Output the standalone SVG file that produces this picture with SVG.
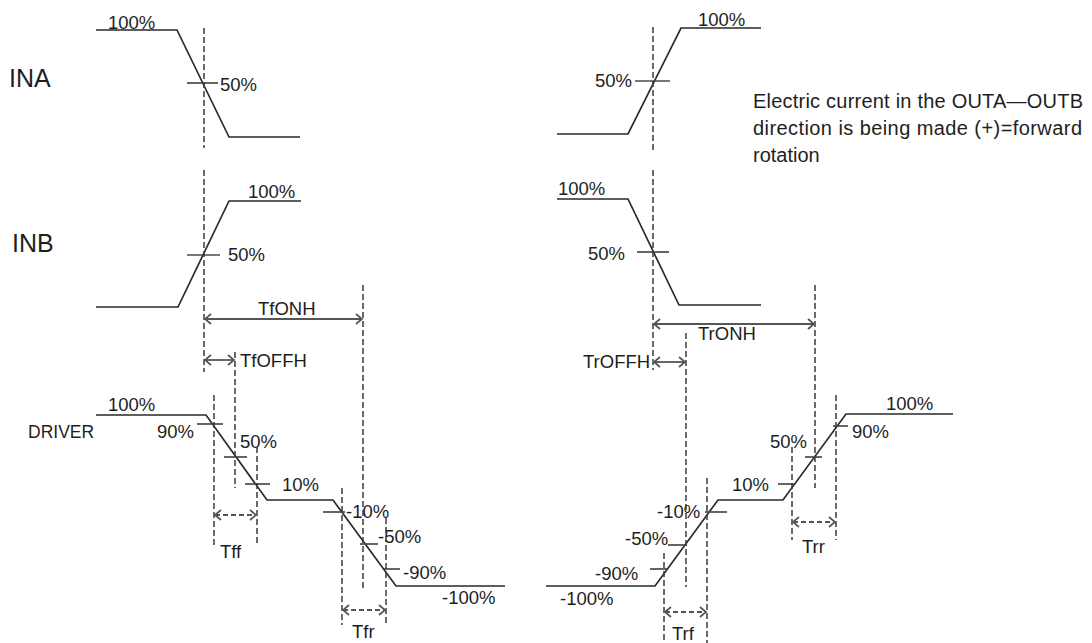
<svg xmlns="http://www.w3.org/2000/svg" width="1092" height="643" viewBox="0 0 1092 643">
<style>
text{font-family:"Liberation Sans",Arial,sans-serif;font-size:18.5px;fill:#1e1e1e}
.big{font-size:25px}
.drv{font-size:17.5px}
.note{font-size:20px}
.wave{fill:none;stroke:#2a2a2a;stroke-width:1.7}
.tick{stroke:#4a4a4a;stroke-width:1.7}
.guide{stroke:#3a3a3a;stroke-width:1.5;stroke-dasharray:6 3;fill:none}
.arr{stroke:#555;stroke-width:1.8;fill:none;marker-start:url(#ah);marker-end:url(#ah)}
.darr{stroke:#555;stroke-width:1.8;fill:none;stroke-dasharray:5 3;marker-start:url(#ah);marker-end:url(#ah)}
</style>
<defs>
<marker id="ah" viewBox="-8 -7 10 14" markerUnits="userSpaceOnUse" markerWidth="10" markerHeight="14" refX="0" refY="0" orient="auto-start-reverse">
<path d="M-6,-5 L0,0 L-6,5" fill="none" stroke="#555" stroke-width="1.7"/>
</marker>
</defs>
<rect width="1092" height="643" fill="#fff"/>

<g id="ina-left">
<text class="big" x="9" y="87">INA</text>
<path class="wave" d="M96,30 H177 L229,137 H300"/>
<line class="tick" x1="187" y1="83" x2="218" y2="83"/>
<text x="108" y="29">100%</text>
<text x="220" y="91">50%</text>
</g>

<g id="inb-left">
<text class="big" x="12" y="252">INB</text>
<path class="wave" d="M96,307 H178 L229,201 H301"/>
<line class="tick" x1="187" y1="255" x2="220" y2="255"/>
<text x="248" y="198">100%</text>
<text x="228" y="261">50%</text>
</g>

<g id="driver-left">
<text class="drv" x="28" y="438">DRIVER</text>
<path class="wave" d="M96,415 H206 L267,500 H333 L396,586 H505"/>
<line class="tick" x1="197" y1="424" x2="223" y2="424"/>
<line class="tick" x1="224" y1="457" x2="247" y2="457"/>
<line class="tick" x1="245" y1="484" x2="270" y2="484"/>
<line class="tick" x1="323" y1="512" x2="345" y2="512"/>
<line class="tick" x1="360" y1="544" x2="378" y2="544"/>
<line class="tick" x1="384" y1="569" x2="400" y2="569"/>
<text x="108" y="411">100%</text>
<text x="157" y="438">90%</text>
<text x="240" y="448">50%</text>
<text x="282" y="491">10%</text>
<text x="346" y="518">-10%</text>
<text x="378" y="543">-50%</text>
<text x="403" y="579">-90%</text>
<text x="442" y="604">-100%</text>
</g>

<g id="ina-right">
<path class="wave" d="M557,134 H628 L681,28 H761"/>
<line class="tick" x1="635" y1="81" x2="670" y2="81"/>
<text x="698" y="26">100%</text>
<text x="595" y="87">50%</text>
</g>

<g id="inb-right">
<path class="wave" d="M557,199 H628 L679,305 H761"/>
<line class="tick" x1="637" y1="252" x2="669" y2="252"/>
<text x="558" y="195">100%</text>
<text x="588" y="260">50%</text>
</g>

<g id="driver-right">
<path class="wave" d="M546,586 H655 L718,500 H783 L846,414 H953"/>
<line class="tick" x1="705" y1="512" x2="727" y2="512"/>
<line class="tick" x1="668" y1="545" x2="687" y2="545"/>
<line class="tick" x1="650" y1="569" x2="667" y2="569"/>
<line class="tick" x1="778" y1="484" x2="795" y2="484"/>
<line class="tick" x1="805" y1="457" x2="822" y2="457"/>
<line class="tick" x1="833" y1="426" x2="848" y2="426"/>
<text x="657" y="518">-10%</text>
<text x="625" y="545">-50%</text>
<text x="595" y="580">-90%</text>
<text x="560" y="605">-100%</text>
<text x="732" y="491">10%</text>
<text x="770" y="448">50%</text>
<text x="852" y="438">90%</text>
<text x="886" y="410">100%</text>
</g>

<g id="note">
<text class="note" x="753" y="108" textLength="330" lengthAdjust="spacing">Electric current in the OUTA—OUTB</text>
<text class="note" x="753" y="135" textLength="329" lengthAdjust="spacing">direction is being made (+)=forward</text>
<text class="note" x="753" y="162">rotation</text>
</g>

<g id="connectors">
<line class="guide" x1="204" y1="28" x2="204" y2="148"/>
<line class="guide" x1="204" y1="170" x2="204" y2="372"/>
<line class="guide" x1="363" y1="285" x2="363" y2="590"/>
<line class="guide" x1="235" y1="352" x2="235" y2="488"/>
<line class="guide" x1="214" y1="395" x2="214" y2="545"/>
<line class="guide" x1="257" y1="447" x2="257" y2="545"/>
<line class="guide" x1="342" y1="488" x2="342" y2="625"/>
<line class="guide" x1="386" y1="518" x2="386" y2="625"/>
<line class="guide" x1="653" y1="27" x2="653" y2="150"/>
<line class="guide" x1="653" y1="170" x2="653" y2="370"/>
<line class="guide" x1="815" y1="285" x2="815" y2="488"/>
<line class="guide" x1="686" y1="333" x2="686" y2="587"/>
<line class="guide" x1="664" y1="553" x2="664" y2="643"/>
<line class="guide" x1="707" y1="478" x2="707" y2="643"/>
<line class="guide" x1="792" y1="447" x2="792" y2="540"/>
<line class="guide" x1="836" y1="395" x2="836" y2="540"/>

<line class="arr" x1="205" y1="319" x2="362" y2="319"/>
<line class="arr" x1="205" y1="360" x2="234" y2="360"/>
<line class="arr" x1="654" y1="324" x2="814" y2="324"/>
<line class="arr" x1="654" y1="362" x2="685" y2="362"/>
<line class="darr" x1="215" y1="515" x2="256" y2="515"/>
<line class="darr" x1="343" y1="610" x2="385" y2="610"/>
<line class="darr" x1="665" y1="612" x2="706" y2="612"/>
<line class="darr" x1="793" y1="522" x2="835" y2="522"/>

<text x="258" y="315">TfONH</text>
<text x="240" y="367">TfOFFH</text>
<text x="698" y="340">TrONH</text>
<text x="583" y="368">TrOFFH</text>
<text x="220" y="558">Tff</text>
<text x="352" y="638">Tfr</text>
<text x="672" y="640">Trf</text>
<text x="802" y="553">Trr</text>
</g>
</svg>
